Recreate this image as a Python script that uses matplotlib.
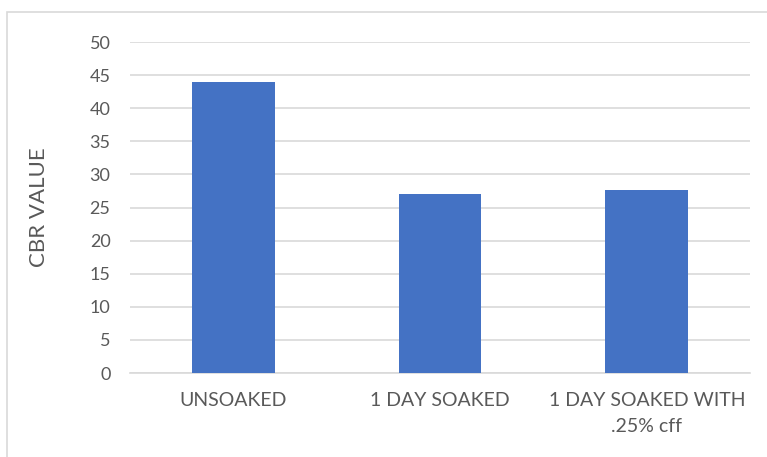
import matplotlib
matplotlib.use("Agg")
from matplotlib import pyplot as plt
from matplotlib.patches import Rectangle

categories = ["UNSOAKED", "1 DAY SOAKED", "1 DAY SOAKED WITH\n.25% cff"]
cbr_values = [43.9, 27.0, 27.6]
y_ticks = [0, 5, 10, 15, 20, 25, 30, 35, 40, 45, 50]

plt.rcParams['font.family'] = ['Lato', 'DejaVu Sans']

fig = plt.figure(figsize=(7.67, 4.57), dpi=100)
ax = fig.add_axes([0.1695, 0.1838, 0.8085, 0.7242])

# outer chart border, cut off at the right and bottom like the screenshot
fig.patches.append(Rectangle((0.009, -0.1), 1.2, 0.1 + 0.974, transform=fig.transFigure,
                             fill=False, edgecolor="#d9d9d9", linewidth=1.2))

x = range(len(categories))
ax.bar(x, cbr_values, width=0.4, color="#4472C4", zorder=3)

ax.set_xlim(-0.5, 2.5)
ax.set_ylim(0, 50)
ax.set_yticks(y_ticks)
ax.set_xticks(list(x), categories)
for lbl in ax.get_xticklabels():
    lbl.set_linespacing(1.6)
ax.grid(axis="y", color="#d9d9d9", linewidth=1.2, zorder=0)
for s in ["top", "right", "left"]:
    ax.spines[s].set_visible(False)
ax.spines["bottom"].set_color("#d9d9d9")
ax.spines["bottom"].set_linewidth(1.2)
ax.tick_params(length=0, colors="#595959")
ax.tick_params(axis="x", labelsize=14, pad=14)
ax.tick_params(axis="y", labelsize=13, pad=14)
ax.set_ylabel("CBR VALUE", fontsize=16, color="#595959", labelpad=29)

plt.savefig("out.png", dpi=100)
